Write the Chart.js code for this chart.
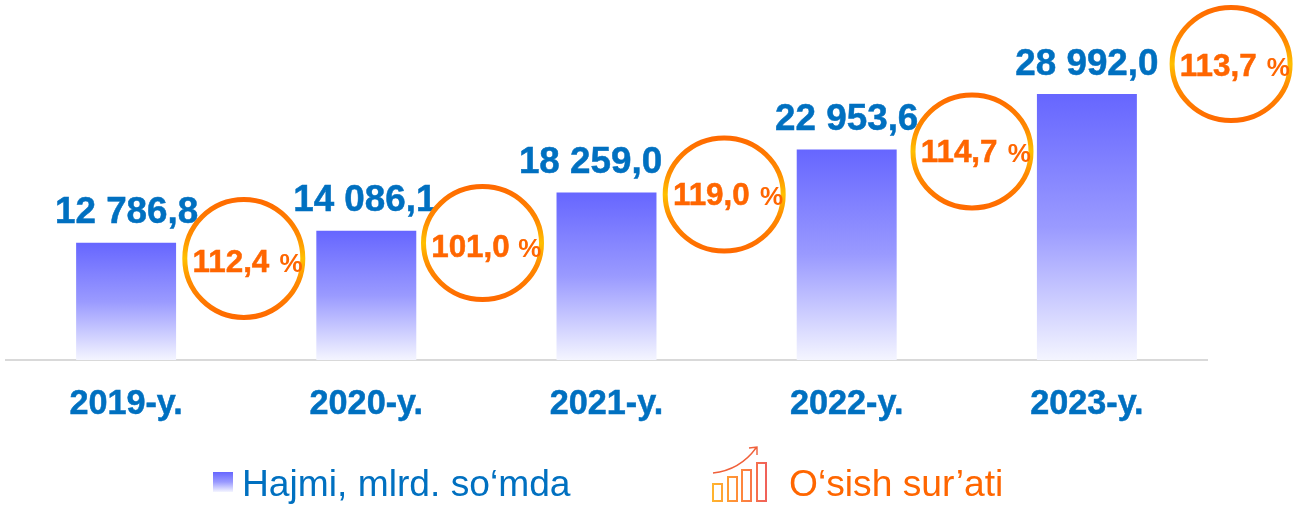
<!DOCTYPE html>
<html>
<head>
<meta charset="utf-8">
<style>
html,body{margin:0;padding:0;background:#fff;overflow:hidden}
#wrap{position:relative;width:1303px;height:505px}
</style>
<script src="https://cdn.jsdelivr.net/npm/chart.js@4"></script>
</head>
<body>
<div id="wrap"><canvas id="c" width="1303" height="505"></canvas></div>
<script>
const categories = ['2019-y.', '2020-y.', '2021-y.', '2022-y.', '2023-y.'];
const volumes = [12786.8, 14086.1, 18259.0, 22953.6, 28992.0];
const volumeLabels = ['12 786,8', '14 086,1', '18 259,0', '22 953,6', '28 992,0'];
const growthRates = [112.4, 101.0, 119.0, 114.7, 113.7];
const growthLabels = ['112,4', '101,0', '119,0', '114,7', '113,7'];
const seriesNames = ['Hajmi, mlrd. so‘mda', 'O‘sish sur’ati'];
const labelDx = [0.5, -1.5, -16, 0, 0];
const ringDx = [117.7, 116.2, 117.7, 125.3, 144.2];
const ringDy = [15.7, 12.3, 2, 2, -30];
const ringRy = [59, 56.5, 56.5, 56.5, 56.5];
const ringTextDy = [14, 13.7, 11, 11, 12];

const FONT = '"Liberation Sans", Arial, sans-serif';
const BLUE = '#0070C0', ORANGE = '#FF6600';

function barGradient(c, top, bottom) {
  const g = c.createLinearGradient(0, top, 0, bottom);
  g.addColorStop(0, '#6666FF');
  g.addColorStop(0.5, '#9A9AFF');
  g.addColorStop(1, '#F4F5FF');
  return g;
}

function heavyText(c, text, x, y, color) {
  c.fillStyle = color;
  c.strokeStyle = color;
  c.lineWidth = 0.5;
  c.fillText(text, x, y);
  c.strokeText(text, x, y);
}

const decorations = {
  id: 'decorations',
  afterDraw(chart) {
    const c = chart.ctx, x = chart.scales.x, y = chart.scales.y;
    c.save();
    c.textBaseline = 'alphabetic';
    // value labels
    c.textAlign = 'center';
    c.font = 'bold 36.8px ' + FONT;
    volumes.forEach((v, i) => {
      heavyText(c, volumeLabels[i], x.getPixelForValue(i) + labelDx[i], y.getPixelForValue(v) - 19.3, BLUE);
    });
    // growth rings
    volumes.forEach((v, i) => {
      const cx = x.getPixelForValue(i) + ringDx[i];
      const cy = y.getPixelForValue(v) + ringDy[i];
      const rx = 59, ry = ringRy[i];
      const g = c.createLinearGradient(0, cy - ry, 0, cy + ry);
      g.addColorStop(0, '#FF6A00');
      g.addColorStop(0.3, '#FF8A00');
      g.addColorStop(0.5, '#FFC000');
      g.addColorStop(0.7, '#FF8A00');
      g.addColorStop(1, '#FF6A00');
      c.strokeStyle = g;
      c.lineWidth = 5;
      c.beginPath();
      c.ellipse(cx, cy, rx, ry, 0, 0, Math.PI * 2);
      c.stroke();
      c.textAlign = 'left';
      c.font = 'bold 31.4px ' + FONT;
      const tx = cx - 51.3, ty = cy + ringTextDy[i];
      heavyText(c, growthLabels[i], tx, ty, ORANGE);
      c.font = 'bold 26px ' + FONT;
      c.fillStyle = ORANGE;
      c.fillText('%', tx + 87, ty);
    });
    // legend
    c.textAlign = 'left';
    c.fillStyle = barGradient(c, 472, 492);
    c.fillRect(213, 472, 20, 20);
    c.fillStyle = BLUE;
    c.font = '37.2px ' + FONT;
    c.fillText(seriesNames[0], 242, 496);
    c.fillStyle = ORANGE;
    c.fillText(seriesNames[1], 789, 496);
    // growth icon
    const ig = c.createLinearGradient(712, 0, 767, 0);
    ig.addColorStop(0, '#FFB52E');
    ig.addColorStop(0.5, '#FF8A3A');
    ig.addColorStop(1, '#F0605A');
    c.strokeStyle = ig;
    c.lineWidth = 2;
    [[713, 484], [728, 477], [742, 470], [757, 463]].forEach(b => {
      c.strokeRect(b[0], b[1], 9, 501 - b[1]);
    });
    c.strokeStyle = '#F0603A';
    c.lineWidth = 1.4;
    c.beginPath();
    c.moveTo(713, 473);
    c.quadraticCurveTo(740, 470, 756, 448);
    c.moveTo(749, 448);
    c.lineTo(757, 447);
    c.lineTo(757, 455);
    c.stroke();
    c.restore();
  }
};

new Chart(document.getElementById('c'), {
  type: 'bar',
  data: {
    labels: categories,
    datasets: [
      {
        label: seriesNames[0],
        data: volumes,
        yAxisID: 'y',
        barPercentage: 1,
        categoryPercentage: 100 / 240.3,
        borderWidth: 0,
        backgroundColor(ctx) {
          const s = ctx.chart.scales.y;
          if (!s || !ctx.chart.chartArea || ctx.raw === undefined) return '#6666FF';
          const top = s.getPixelForValue(ctx.raw), bottom = s.getPixelForValue(0);
          if (!isFinite(top) || !isFinite(bottom)) return '#6666FF';
          return barGradient(ctx.chart.ctx, top, bottom);
        }
      },
      {
        type: 'line',
        label: seriesNames[1],
        data: growthRates,
        yAxisID: 'rate',
        showLine: false,
        pointRadius: 0,
        backgroundColor: ORANGE,
        borderColor: ORANGE
      }
    ]
  },
  options: {
    responsive: false,
    animation: false,
    layout: { padding: { left: 6, right: 96, top: 0, bottom: 0 } },
    plugins: { legend: { display: false }, tooltip: { enabled: false } },
    scales: {
      x: {
        grid: { display: false, drawTicks: false },
        border: { color: '#D9D9D9', width: 2 },
        afterFit(a) { a.height = 145; },
        ticks: {
          color: BLUE,
          font: { family: FONT, size: 34.2, weight: 'bold' },
          textStrokeColor: BLUE,
          textStrokeWidth: 0.5,
          padding: 24,
          autoSkip: false,
          maxRotation: 0
        }
      },
      y: { display: false, min: 0, max: 39240 },
      rate: { display: false, min: 0, max: 200 }
    }
  },
  plugins: [decorations]
});
</script>
</body>
</html>
